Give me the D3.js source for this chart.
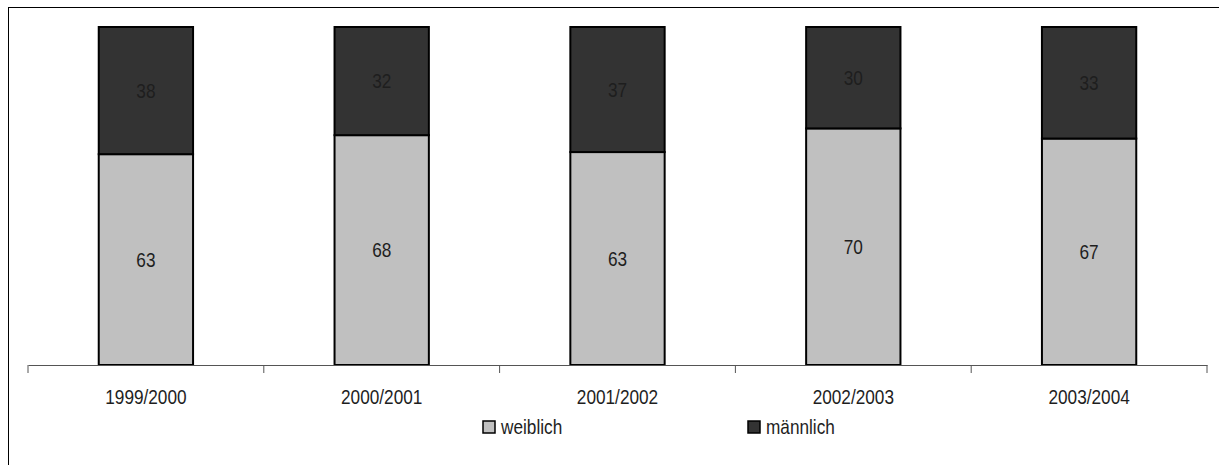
<!DOCTYPE html>
<html>
<head>
<meta charset="utf-8">
<script src="https://cdn.jsdelivr.net/npm/d3@7"></script>
<style>
  body { margin: 0; background: #fff; }
  text { font-family: "Liberation Sans Narrow", "Arial Narrow", "Liberation Sans", Arial, sans-serif; fill: #1e1e1e; }
</style>
</head>
<body>
<div id="chart"></div>
<script>
var width = 1219
var height = 465
var narrow = 0.82   // squeeze regular sans to look like Arial Narrow

var years = ["1999/2000", "2000/2001", "2001/2002", "2002/2003", "2003/2004"]
var weiblich = [63, 68, 63, 70, 67]
var maennlich = [38, 32, 37, 30, 33]
var seriesNames = ["weiblich", "männlich"]
var seriesColors = ["#c0c0c0", "#333333"]

var rows = years.map(function(y, i) {
    return { year: y, weiblich: weiblich[i], "männlich": maennlich[i] }
})

var svg = d3.select("#chart")
            .append("svg")
            .attr("width", width)
            .attr("height", height)

// outer frame
svg.append("rect")
    .attr("x", 8.5)
    .attr("y", 7.5)
    .attr("width", width + 20)
    .attr("height", height + 20)
    .attr("fill", "none")
    .attr("stroke", "#000")
    .attr("stroke-width", 1)

var x = d3.scaleBand()
            .domain(years)
            .range([28, 1207])
            .paddingInner(0.6)
            .paddingOuter(0.3)

var y = d3.scaleLinear()
            .domain([0, 1])
            .range([365, 27])

var stack = d3.stack()
                .keys(seriesNames)
                .offset(d3.stackOffsetExpand)
var stacked = stack(rows)

var layer = svg.selectAll(".layer")
    .data(stacked)
    .enter()
    .append("g")
    .attr("class", "layer")
    .attr("fill", function(d, i) { return seriesColors[i] })

layer.selectAll("rect")
    .data(function(d) { return d })
    .enter()
    .append("rect")
    .attr("x", function(d) { return x(d.data.year) })
    .attr("y", function(d) { return y(d[1]) })
    .attr("width", x.bandwidth())
    .attr("height", function(d) { return y(d[0]) - y(d[1]) })
    .attr("stroke", "#000")
    .attr("stroke-width", 2)

// value labels
stacked.forEach(function(s) {
    svg.selectAll(".lbl-" + s.index)
        .data(s)
        .enter()
        .append("text")
        .attr("transform", function(d) {
            var cx = x(d.data.year) + x.bandwidth() / 2
            var cy = (y(d[0]) + y(d[1])) / 2
            return "translate(" + cx + "," + cy + ") scale(" + narrow + ",1)"
        })
        .attr("dy", "0.35em")
        .attr("text-anchor", "middle")
        .style("font-size", "21px")
        .text(function(d) { return d.data[s.key] })
})

// x axis
var axis = svg.append("g")
    .attr("transform", "translate(0," + 365 + ")")
    .call(d3.axisBottom(x).tickSize(0).tickPadding(0))
axis.select(".domain").attr("stroke", "#555")
axis.selectAll(".tick text")
    .attr("y", null)
    .attr("dy", null)
    .attr("transform", "translate(0,39) scale(" + narrow + ",1)")
    .style("font-size", "21px")
    .attr("fill", "#1e1e1e")

var edges = d3.range(years.length + 1).map(function(i) { return 28 + i * x.step() })
axis.selectAll(".edge")
    .data(edges)
    .enter()
    .append("line")
    .attr("x1", function(d) { return d })
    .attr("x2", function(d) { return d })
    .attr("y1", 0)
    .attr("y2", 8)
    .attr("stroke", "#555")

// legend
var legendX = [483, 748]
var legend = svg.selectAll(".legend")
    .data(seriesNames)
    .enter()
    .append("g")
    .attr("class", "legend")
    .attr("transform", function(d, i) { return "translate(" + legendX[i] + ",421)" })

legend.append("rect")
    .attr("width", 12)
    .attr("height", 12)
    .attr("fill", function(d, i) { return seriesColors[i] })
    .attr("stroke", "#000")
    .attr("stroke-width", 1.5)

legend.append("text")
    .attr("transform", "translate(18,13) scale(" + narrow + ",1)")
    .style("font-size", "21px")
    .text(function(d) { return d })
</script>
</body>
</html>
